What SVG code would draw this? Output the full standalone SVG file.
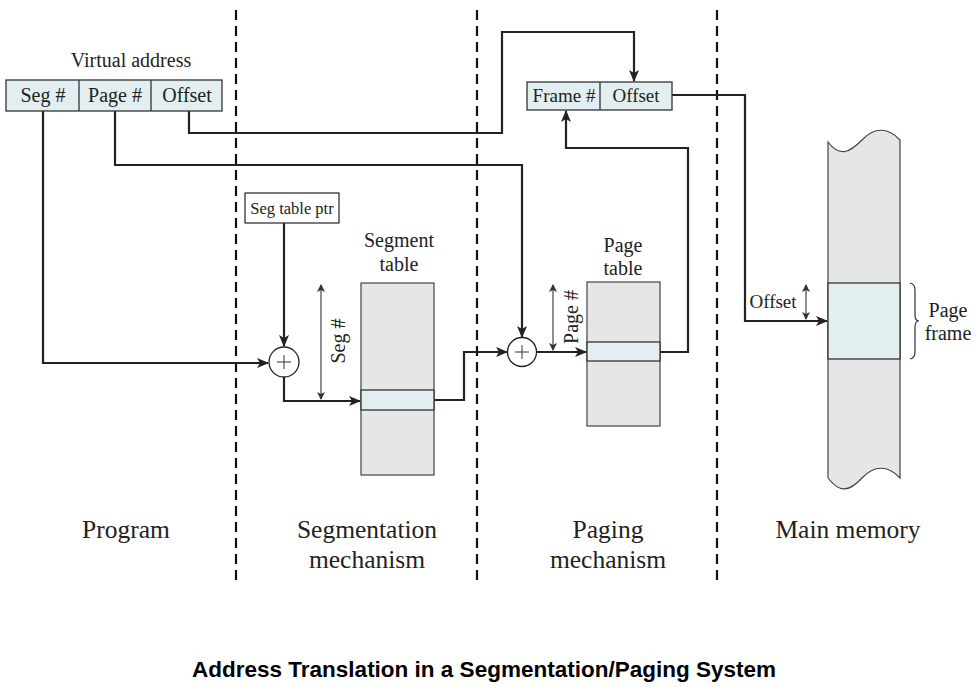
<svg xmlns="http://www.w3.org/2000/svg" width="979" height="687" viewBox="0 0 979 687">
<style>
.t{font-family:"Liberation Serif","Times New Roman",serif;fill:#222}
.box{fill:#e3eef0;stroke:#333;stroke-width:1.3}
.tbl{fill:#e6e6e6;stroke:#444;stroke-width:1.2}
.hl{fill:#e3eef0;stroke:#333;stroke-width:1.3}
.ln{fill:none;stroke:#222;stroke-width:2.2}
.thin{fill:none;stroke:#444;stroke-width:1.2}
.dash{stroke:#111;stroke-width:2.2;stroke-dasharray:10,6}
</style>
<defs>
<marker id="ah" markerWidth="12" markerHeight="10" refX="11" refY="5" orient="auto" markerUnits="userSpaceOnUse"><path d="M0,0 L12,5 L0,10 L3,5 z" fill="#222"/></marker>
<marker id="sa" markerWidth="8" markerHeight="10" refX="7" refY="4" orient="auto-start-reverse" markerUnits="userSpaceOnUse"><path d="M0,0 L8,4 L0,8 L2,4 z" fill="#333"/></marker>
</defs>
<rect width="979" height="687" fill="#fff"/>
<g id="dividers">
<line class="dash" x1="236" y1="10" x2="236" y2="586"/>
<line class="dash" x1="477" y1="10" x2="477" y2="586"/>
<line class="dash" x1="717" y1="10" x2="717" y2="586"/>
</g>
<g id="connectors">
<path class="ln" d="M43,111 V363 H268" marker-end="url(#ah)"/>
<path class="ln" d="M284,223 V346" marker-end="url(#ah)"/>
<path class="ln" d="M284,377 V401 H360" marker-end="url(#ah)"/>
<path class="ln" d="M434,400 H464 V352 H507" marker-end="url(#ah)"/>
<path class="ln" d="M115,111 V165 H522 V337" marker-end="url(#ah)"/>
<path class="ln" d="M189,111 V133 H502 V32 H634 V81" marker-end="url(#ah)"/>
<path class="ln" d="M537,352 H586" marker-end="url(#ah)"/>
<path class="ln" d="M660,352 H688 V148 H566 V111" marker-end="url(#ah)"/>
<path class="ln" d="M672,95 H745 V321 H827" marker-end="url(#ah)"/>
<line class="thin" x1="321" y1="285" x2="321" y2="399" marker-start="url(#sa)" marker-end="url(#sa)"/>
<line class="thin" x1="553" y1="285" x2="553" y2="350" marker-start="url(#sa)" marker-end="url(#sa)"/>
<line class="thin" x1="806" y1="285" x2="806" y2="319" marker-start="url(#sa)" marker-end="url(#sa)"/>
</g>
<g id="virtual-address">
<text class="t" x="131" y="67" font-size="20" text-anchor="middle">Virtual address</text>
<rect class="box" x="6" y="80" width="216" height="31"/>
<line stroke="#333" stroke-width="1.3" x1="79" y1="80" x2="79" y2="111"/>
<line stroke="#333" stroke-width="1.3" x1="151" y1="80" x2="151" y2="111"/>
<text class="t" x="43" y="102" font-size="20" text-anchor="middle">Seg #</text>
<text class="t" x="115" y="102" font-size="20" text-anchor="middle">Page #</text>
<text class="t" x="187" y="102" font-size="20" text-anchor="middle">Offset</text>
</g>
<g id="seg-table-ptr">
<rect x="245" y="193" width="94" height="30" fill="#fff" stroke="#333" stroke-width="1.3"/>
<text class="t" x="292" y="214" font-size="16.5" text-anchor="middle">Seg table ptr</text>
</g>
<g id="adder1">
<circle cx="284" cy="362" r="15" fill="#fff" stroke="#222" stroke-width="1.3"/>
<path d="M284,355 V369 M277,362 H291" stroke="#333" stroke-width="1"/>
</g>
<g id="segment-table">
<text class="t" x="399" y="247" font-size="20" text-anchor="middle">Segment</text>
<text class="t" x="399" y="271" font-size="20" text-anchor="middle">table</text>
<rect class="tbl" x="361" y="283" width="73" height="192"/>
<rect class="hl" x="361" y="390" width="73" height="20"/>
<text class="t" font-size="20" text-anchor="middle" transform="translate(345,341) rotate(-90)">Seg #</text>
</g>
<g id="adder2">
<circle cx="522" cy="352" r="14.5" fill="#fff" stroke="#222" stroke-width="1.3"/>
<path d="M522,345 V359 M515,352 H529" stroke="#333" stroke-width="1"/>
</g>
<g id="page-table">
<text class="t" x="623" y="252" font-size="20" text-anchor="middle">Page</text>
<text class="t" x="623" y="275" font-size="20" text-anchor="middle">table</text>
<rect class="tbl" x="587" y="282" width="73" height="144"/>
<rect class="hl" x="587" y="342" width="73" height="19"/>
<text class="t" font-size="20" text-anchor="middle" transform="translate(578,317) rotate(-90)">Page #</text>
</g>
<g id="physical-address">
<rect class="box" x="527" y="82" width="145" height="28"/>
<line stroke="#333" stroke-width="1.3" x1="600" y1="82" x2="600" y2="110"/>
<text class="t" x="564" y="102" font-size="19" text-anchor="middle">Frame #</text>
<text class="t" x="636" y="102" font-size="19" text-anchor="middle">Offset</text>
</g>
<g id="main-memory">
<path class="tbl" d="M828,142 C840,158 850,152 862,140 C874,127 888,127 900,140 V478 C888,465 874,465 862,478 C850,491 840,494 828,478 Z"/>
<rect class="hl" x="828" y="283" width="72" height="76"/>
<text class="t" x="773" y="308" font-size="19" text-anchor="middle">Offset</text>
<path d="M910,283 Q915,284 915,290 V315 Q915,321 919,321 Q915,321 915,327 V352 Q915,358 910,359" fill="none" stroke="#333" stroke-width="1.2"/>
<text class="t" x="948" y="317" font-size="20" text-anchor="middle">Page</text>
<text class="t" x="948" y="340" font-size="20" text-anchor="middle">frame</text>
</g>
<g id="labels">
<text class="t" x="126" y="538" font-size="25.5" text-anchor="middle">Program</text>
<text class="t" x="367" y="538" font-size="25.5" text-anchor="middle">Segmentation</text>
<text class="t" x="367" y="568" font-size="25.5" text-anchor="middle">mechanism</text>
<text class="t" x="608" y="538" font-size="25.5" text-anchor="middle">Paging</text>
<text class="t" x="608" y="568" font-size="25.5" text-anchor="middle">mechanism</text>
<text class="t" x="848" y="538" font-size="25.5" text-anchor="middle">Main memory</text>
<text x="484" y="677" font-family="'Liberation Sans',Arial,sans-serif" font-weight="bold" font-size="22.5" text-anchor="middle" fill="#000">Address Translation in a Segmentation/Paging System</text>
</g>
</svg>
